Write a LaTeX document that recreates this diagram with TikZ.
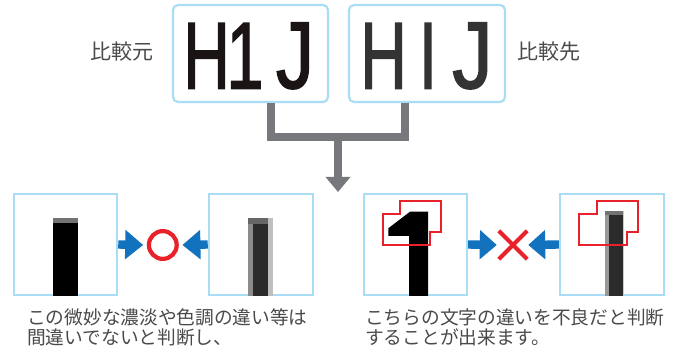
\documentclass[tikz,border=0pt]{standalone}
\usepackage{fontspec}
\newfontfamily\jp{Noto Sans CJK JP}
\newfontfamily\lsans[FakeBold=1.8]{Liberation Sans}
\usetikzlibrary{arrows.meta}
\definecolor{boxblue}{HTML}{A9DDF5}
\definecolor{arrblue}{HTML}{1272BD}
\definecolor{markred}{HTML}{E8212B}
\definecolor{conngray}{HTML}{77787B}
\definecolor{txtgray}{HTML}{4A4A4A}
\definecolor{inkA}{HTML}{1A1414}
\definecolor{inkB}{HTML}{333333}
\begin{document}
\begin{tikzpicture}[x=1pt,y=-1pt,
  topbox/.style={draw=boxblue,line width=2.2pt,rounded corners=5pt,minimum width=155pt,minimum height=97pt,inner sep=0pt},
  botbox/.style={draw=boxblue,line width=2.2pt,minimum height=101pt,inner sep=0pt},
  bigA/.style={inner sep=0pt,font=\lsans\fontsize{95}{95}\selectfont,text=inkA},
  bigB/.style={inner sep=0pt,font=\lsans\fontsize{95}{95}\selectfont,text=inkB},
  label/.style={inner sep=0pt,font=\jp\fontsize{21}{21}\selectfont,text=txtgray},
  desc/.style={inner sep=0pt,anchor=west,font=\jp\fontsize{18.7}{20}\selectfont,text=txtgray},
  conn/.style={draw=conngray,line width=8pt,line join=miter},
  connarrow/.style={draw=conngray,line width=8pt,-{Triangle[width=24pt,length=15pt]}},
  bluearrow/.style={draw=arrblue,line width=8.4pt,-{Triangle[width=28.4pt,length=18pt]}},
  redline/.style={draw=markred,line width=2.3pt,line join=miter},
  cross/.style={draw=markred,line width=4.2pt}
]
\useasboundingbox (0,0) rectangle (678,358);
\fill[white] (0,0) rectangle (678,358);

% top boxes
\node[topbox] (tA) at (250.5,53.5) {};
\node[topbox,minimum width=156pt] (tB) at (427,53.5) {};
\node[bigA] (a1) at (206.5,55.9) {\scalebox{0.676}[1]{H}};
\node[bigA] (a2) at (245,55.9) {\scalebox{0.7}[1]{1}};
\node[bigA] (a3) at (295,55.9) {\scalebox{0.8}[1]{J}};
\node[bigB] (b1l) at (383.5,55.9) {\scalebox{0.676}[1]{H}};
\node[bigB] (b2l) at (428,55.9) {\scalebox{0.676}[1]{I}};
\node[bigB] (b3l) at (472.5,55.9) {\scalebox{0.85}[1]{J}};
\node[label] (la) at (122,52) {比較元};
\node[label] (lb) at (548.5,52) {比較先};

% connector
\coordinate (jl) at (271,137);
\coordinate (jr) at (405,137);
\coordinate (jm) at (338,137);
\coordinate (jt) at (338,192);
\draw[conn] (tA.south -| jl) -- (jl) -- (jr) -- (tB.south -| jr);
\draw[connarrow] (jm) -- (jt);

% bottom boxes
\node[botbox,minimum width=103.3pt] (b1) at (65.5,244.5) {};
\node[botbox,minimum width=104.3pt] (b2) at (261,244.5) {};
\node[botbox,minimum width=103pt] (b3) at (415.5,244.5) {};
\node[botbox,minimum width=104pt] (b4) at (612,244.5) {};

% box 1 bar
\fill[black] (52.7,218) rectangle (78.3,296);
\fill[black!55] (52.7,218) rectangle (78.3,223);
% box 2 bar
\fill[black!45] (247.7,218) rectangle (273.3,296);
\fill[black!25] (267.7,218) rectangle (273.3,296);
\fill[black!60] (247.7,218) rectangle (267.7,223.7);
\fill[black!83] (252.7,223.7) rectangle (267.7,296);
% box 3 glyph
\fill[black] (388.3,228.3) -- (410,211.7) -- (428,211.7) -- (428,296) -- (409,296) -- (409,236) -- (388.3,236) -- cycle;
\draw[redline] (400,201) -- (441,201) -- (441,232.3) -- (430,232.3) -- (430,245) -- (382.7,245) -- (382.7,214.3) -- (400,214.3) -- cycle;
% box 4 bar
\fill[black!40] (605,210.7) rectangle (624.3,296);
\fill[black!20] (622.7,210.7) rectangle (624.3,296);
\fill[black!55] (605,210.7) rectangle (622.7,215);
\fill[black!83] (609.3,215) rectangle (622.7,296);
\draw[redline] (596.7,201) -- (637.7,201) -- (637.7,232.3) -- (626.7,232.3) -- (626.7,245) -- (579.3,245) -- (579.3,214) -- (596.7,214) -- cycle;

% OK mark and arrows
\node[circle,draw=markred,line width=4.2pt,minimum size=27.8pt,inner sep=0pt] (ok) at (162.8,245) {};
\draw[bluearrow] (b1.east) -- ([xshift=-3.6pt]ok.west);
\draw[bluearrow] (b2.west) -- ([xshift=3.6pt]ok.east);

% NG mark and arrows
\node[minimum size=28pt,inner sep=0pt] (ng) at (513,245) {};
\draw[cross] (ng.north west) -- (ng.south east);
\draw[cross] (ng.south west) -- (ng.north east);
\draw[bluearrow,-{Triangle[width=28.4pt,length=17pt]}] (b3.east) -- ([xshift=-2pt]ng.west);
\draw[bluearrow,-{Triangle[width=28.4pt,length=17pt]}] (b4.west) -- ([xshift=1pt]ng.east);

% descriptions
\node[desc] (d1) at (27,317.5) {この微妙な濃淡や色調の違い等は};
\node[desc] (d2) at (27,337.5) {間違いでないと判断し、};
\node[desc] (d3) at (365,317.5) {こちらの文字の違いを不良だと判断};
\node[desc] (d4) at (365,337.5) {することが出来ます。};
\end{tikzpicture}
\end{document}
